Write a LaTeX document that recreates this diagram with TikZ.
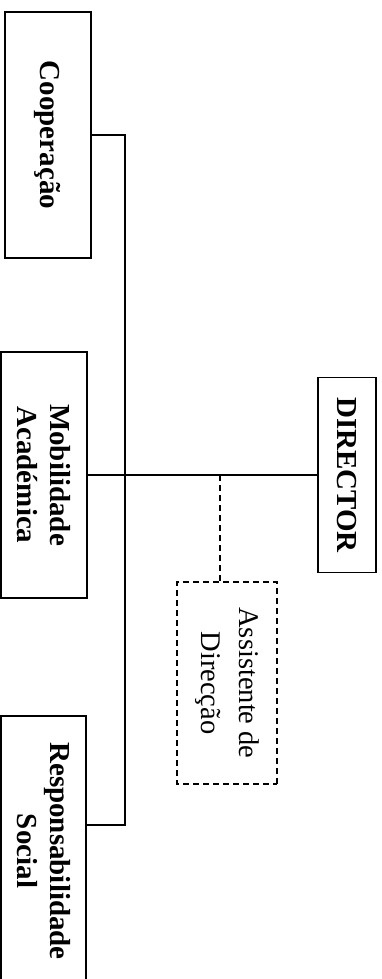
\documentclass[tikz,border=0pt]{standalone}
\usepackage{fontspec}
\setmainfont{Liberation Serif}
\begin{document}
\begin{tikzpicture}[x=1pt,y=-1pt,
  box/.style={draw, line width=1.6pt, rotate=-90, inner sep=0pt, align=center,
    font=\fontsize{29}{33}\selectfont\bfseries},
  dbox/.style={draw, line width=1.6pt, dash pattern=on 6pt off 4pt, rotate=-90,
    inner sep=0pt, align=center, font=\fontsize{28.5}{38}\selectfont},
  link/.style={line width=1.4pt},
  dlink/.style={line width=1.5pt, dash pattern=on 6pt off 4pt}]
\useasboundingbox (0,0) rectangle (382,979);
\clip (0,0) rectangle (382,979);
\node[box, minimum width=246pt, minimum height=86pt] (coop) at (48,135) {Cooperação};
\node[box, minimum width=246pt, minimum height=86pt] (mob) at (44,475) {Mobilidade\\Académica};
\node[box, minimum width=270pt, minimum height=85pt] (resp) at (43.5,851) {Responsabilidade\\Social};
\node[box, minimum width=195pt, minimum height=58pt] (dir) at (347,475) {DIRECTOR};
\node[dbox, minimum width=202pt, minimum height=100pt] (asst) at (227,683) {Assistente de\\Direcção};
\coordinate (bustop) at (125,135);
\coordinate (busbot) at (125,825);
\coordinate (junc) at (220,475);
\draw[link] (coop.north) -- (bustop) -- (busbot) -- (busbot -| resp.north);
\draw[link] (mob.north) -- (dir.south);
\draw[dlink] (junc) -- (junc |- asst.west);
\end{tikzpicture}
\end{document}
